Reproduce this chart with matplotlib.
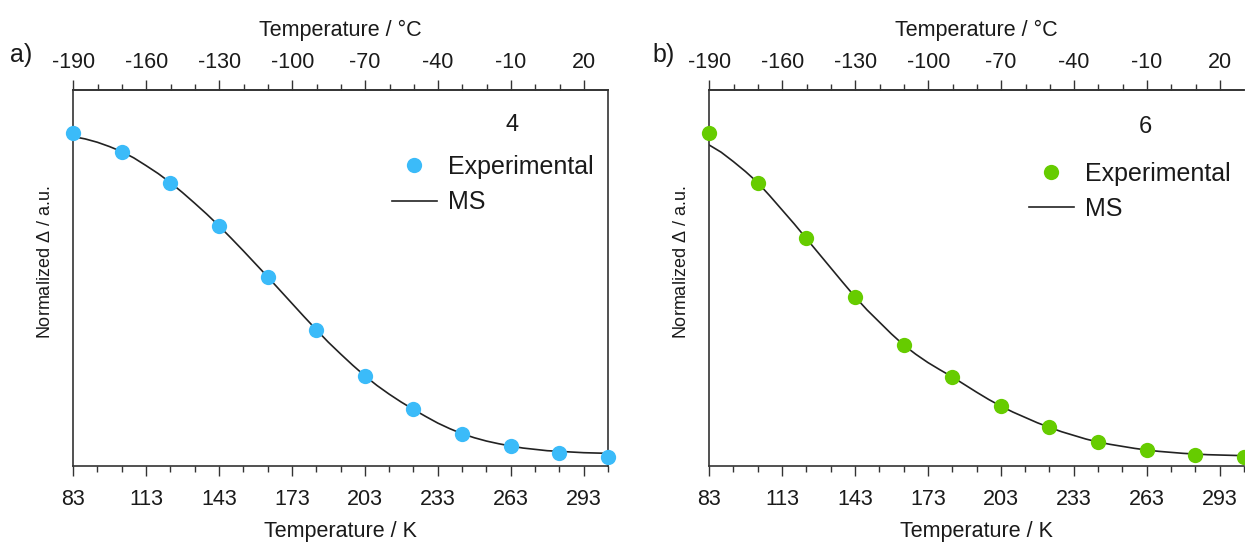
import numpy as np
import matplotlib
matplotlib.use("Agg")
import matplotlib.pyplot as plt
from matplotlib.ticker import FixedLocator
from matplotlib.lines import Line2D

plt.rcParams['font.family'] = ['Liberation Sans', 'DejaVu Sans']
plt.rcParams['mathtext.fontset'] = 'custom'
plt.rcParams['mathtext.rm'] = 'Liberation Sans'
plt.rcParams['mathtext.it'] = 'Liberation Sans:italic'
plt.rcParams['axes.unicode_minus'] = False

# ---- data ----
T_exp = [83, 103, 123, 143, 163, 183, 203, 223, 243, 263, 283, 303]
exp_4 = [1.000, 0.945, 0.852, 0.722, 0.569, 0.410, 0.271, 0.170, 0.095, 0.060, 0.040, 0.028]
exp_6 = [1.000, 0.852, 0.684, 0.509, 0.364, 0.268, 0.180, 0.116, 0.072, 0.048, 0.033, 0.028]

T_fit = [83, 88, 93, 98, 103, 108, 113, 118, 123, 128, 133, 138, 143, 148, 153, 158,
         163, 168, 173, 178, 183, 188, 193, 198, 203, 208, 213, 218, 223, 228,
         233, 238, 243, 248, 253, 258, 263, 268, 273, 278, 283, 288, 293, 298, 303]
ms_4 = [0.990, 0.983, 0.973, 0.960, 0.945, 0.926, 0.903, 0.879, 0.852, 0.822,
        0.790, 0.757, 0.722, 0.685, 0.647, 0.608, 0.569, 0.529, 0.489, 0.449,
        0.410, 0.372, 0.337, 0.303, 0.271, 0.242, 0.216, 0.192, 0.170, 0.149,
        0.129, 0.112, 0.097, 0.085, 0.075, 0.067, 0.060, 0.054, 0.050, 0.046,
        0.044, 0.042, 0.040, 0.039, 0.038]
ms_6 = [0.965, 0.943, 0.915, 0.885, 0.852, 0.812, 0.770, 0.728, 0.684, 0.640,
        0.596, 0.552, 0.509, 0.469, 0.433, 0.397, 0.364, 0.336, 0.311, 0.289,
        0.268, 0.245, 0.222, 0.200, 0.180, 0.162, 0.146, 0.130, 0.116, 0.103,
        0.092, 0.081, 0.072, 0.065, 0.059, 0.053, 0.048, 0.044, 0.041, 0.038,
        0.036, 0.034, 0.033, 0.032, 0.031]

K_ticks = [83, 113, 143, 173, 203, 233, 263, 293]
C_ticks = [-190, -160, -130, -100, -70, -40, -10, 20]
K_minor = [93, 103, 123, 133, 153, 163, 183, 193, 213, 223, 243, 253, 273, 283, 303]
C_minor = [-180, -170, -150, -140, -120, -110, -90, -80, -60, -50, -30, -20, 0, 10, 30]

panels = [
    dict(tag="a)", num="4", exp=exp_4, ms=ms_4, color="#3BBBF9",
         left=73, tagx=10, leg=(0.596, 0.827), numpos=(0.821, 0.907)),
    dict(tag="b)", num="6", exp=exp_6, ms=ms_6, color="#66CC00",
         left=709, tagx=652, leg=(0.598, 0.809), numpos=(0.815, 0.902)),
]

W, H = 1245, 546
fig = plt.figure(figsize=(W / 100, H / 100), dpi=100)
text_c = "#1a1a1a"
spine_c = "#333333"

for i, p in enumerate(panels):
    ax = fig.add_axes([p["left"] / W, (H - 466) / H, 535 / W, 376 / H])
    ax.plot(T_fit, p["ms"], color="#222222", lw=1.2, zorder=2)
    ax.plot(T_exp, p["exp"], 'o', color=p["color"], ms=11, mec='none',
            zorder=3, clip_on=False)
    ax.set_xlim(83, 303)
    ax.set_ylim(0, 1.13)
    for s in ax.spines.values():
        s.set_color(spine_c)
        s.set_linewidth(1.2)
    if i == 1:
        ax.spines['right'].set_visible(False)
    ax.set_yticks([])
    ax.xaxis.set_major_locator(FixedLocator(K_ticks))
    ax.xaxis.set_minor_locator(FixedLocator(K_minor))
    ax.tick_params(axis='x', which='major', direction='out', length=7.5,
                   width=1.0, labelsize=15.5, pad=9, colors=spine_c, labelcolor=text_c)
    ax.tick_params(axis='x', which='minor', direction='out', length=4, width=1.0,
                   colors=spine_c)
    ax.set_xlabel("Temperature / K", fontsize=15.5, color=text_c)
    ax.xaxis.set_label_coords(0.5, -0.173)
    ax.xaxis.label.set_va('center')
    ax.set_ylabel(r"Normalized $\mathit{\Delta}$ / a.u.", fontsize=13, color=text_c)
    ax.yaxis.set_label_coords(-0.052, 0.543)
    ax.yaxis.label.set_va('center')

    sec = ax.secondary_xaxis('top', functions=(lambda t: t - 273.15, lambda c: c + 273.15))
    sec.xaxis.set_major_locator(FixedLocator(C_ticks))
    sec.xaxis.set_minor_locator(FixedLocator(C_minor))
    sec.tick_params(axis='x', which='major', direction='out', length=7.5,
                    width=1.0, labelsize=15.5, pad=5, colors=spine_c, labelcolor=text_c)
    sec.tick_params(axis='x', which='minor', direction='out', length=4, width=1.0,
                    colors=spine_c)
    sec.spines['top'].set_color(spine_c)
    sec.spines['top'].set_linewidth(1.2)
    sec.set_xlabel("Temperature / °C", fontsize=15.5, color=text_c, labelpad=11)

    handles = [Line2D([], [], ls='none', marker='o', color=p["color"], ms=11, mec='none'),
               Line2D([], [], color="#222222", lw=1.2)]
    ax.legend(handles, ["Experimental", "MS"], loc='upper left',
              bbox_to_anchor=p["leg"], frameon=False, fontsize=18,
              handlelength=1.8, handletextpad=0.45, borderpad=0,
              borderaxespad=0, labelspacing=0.45, labelcolor=text_c)
    ax.text(p["numpos"][0], p["numpos"][1], p["num"], transform=ax.transAxes,
            fontsize=17, ha='center', va='center', color=text_c)
    fig.text(p["tagx"] / W, 1 - 55 / H, p["tag"], fontsize=18,
             ha='left', va='center', color=text_c)

fig.savefig("out.png", dpi=100)
